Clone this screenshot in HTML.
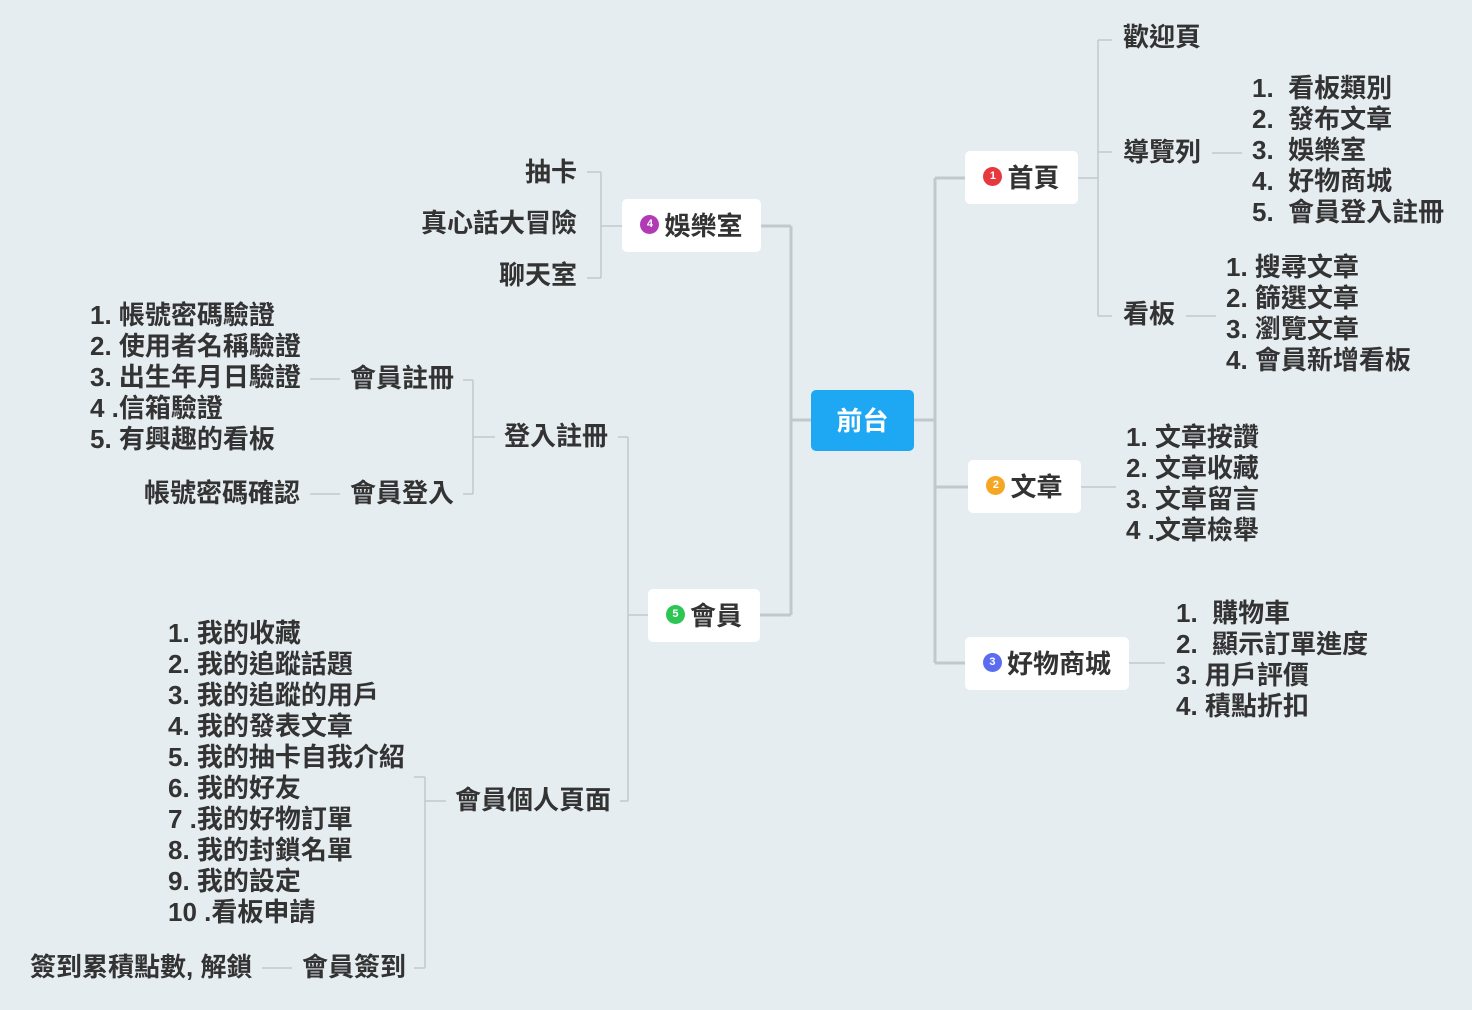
<!DOCTYPE html>
<html><head><meta charset="utf-8"><style>
body{margin:0;width:1472px;height:1010px;background:#e6edf1;position:relative;overflow:hidden;font-family:"Liberation Sans","Noto Sans CJK TC",sans-serif;font-weight:bold;color:#333;}
.t{position:absolute;font-size:26px;line-height:31px;white-space:pre;}
.r{text-align:right;}
.box{position:absolute;background:#fff;border-radius:5px;font-size:26px;display:flex;align-items:center;justify-content:center;gap:5px;padding-bottom:2px;box-sizing:border-box;}
.m{display:inline-block;width:19px;height:19px;border-radius:50%;color:#fff;font-size:11px;line-height:19px;text-align:center;font-family:"Liberation Sans",sans-serif;}
svg{position:absolute;left:0;top:0}
</style></head><body>
<svg width="1472" height="1010" fill="none" stroke="#c2c8cc">
<g stroke-width="3">
<path d="M914 420H935M935 178V663M935 178H965M935 487H968M935 663H965"/>
<path d="M811 420H791M791 226V615M791 226H761M791 615H760"/>
</g>
<g stroke-width="1.5">
<path d="M1078 178H1098M1098 40V316M1098 40H1112M1098 152H1112M1098 316H1112M1212 153H1242M1186 316H1216"/>
<path d="M1081 487H1116M1129 663H1165"/>
<path d="M622 226H601M601 172V278M587 172H601M587 278H601"/>
<path d="M648 615H628M628 437V801M618 437H628M620 801H628"/>
<path d="M495 437H473M473 380V494M463 380H473M463 494H473M310 379H340M310 494H340"/>
<path d="M446 801H425M425 777V968M414 777H425M414 968H425M262 968H292"/>
</g>
</svg>
<div class="box" style="left:811px;top:390px;width:103px;height:61px;background:#1ea7f2;color:#fff;">前台</div>
<div class="box" style="left:965px;top:151px;width:113px;height:53px;"><span class="m" style="background:#e5393f">1</span>首頁</div>
<div class="box" style="left:968px;top:460px;width:113px;height:53px;"><span class="m" style="background:#f5a623">2</span>文章</div>
<div class="box" style="left:965px;top:637px;width:164px;height:53px;"><span class="m" style="background:#5b6cf0">3</span>好物商城</div>
<div class="box" style="left:622px;top:199px;width:139px;height:53px;"><span class="m" style="background:#b23bb5">4</span>娛樂室</div>
<div class="box" style="left:648px;top:589px;width:112px;height:53px;"><span class="m" style="background:#2dc653">5</span>會員</div>

<div class="t" style="left:1123px;top:22px">歡迎頁</div>
<div class="t" style="left:1123px;top:137px">導覽列</div>
<div class="t" style="left:1252px;top:73px">1.  看板類別
2.  發布文章
3.  娛樂室
4.  好物商城
5.  會員登入註冊</div>
<div class="t" style="left:1123px;top:299px">看板</div>
<div class="t" style="left:1226px;top:252px">1. 搜尋文章
2. 篩選文章
3. 瀏覽文章
4. 會員新增看板</div>
<div class="t" style="left:1126px;top:422px">1. 文章按讚
2. 文章收藏
3. 文章留言
4 .文章檢舉</div>
<div class="t" style="left:1176px;top:598px">1.  購物車
2.  顯示訂單進度
3. 用戶評價
4. 積點折扣</div>

<div class="t r" style="right:895px;top:157px">抽卡</div>
<div class="t r" style="right:895px;top:208px">真心話大冒險</div>
<div class="t r" style="right:895px;top:260px">聊天室</div>

<div class="t" style="left:504px;top:421px">登入註冊</div>
<div class="t" style="left:455px;top:785px">會員個人頁面</div>
<div class="t" style="left:350px;top:363px">會員註冊</div>
<div class="t" style="left:350px;top:478px">會員登入</div>
<div class="t" style="left:90px;top:300px">1. 帳號密碼驗證
2. 使用者名稱驗證
3. 出生年月日驗證
4 .信箱驗證
5. 有興趣的看板</div>
<div class="t r" style="right:1172px;top:478px">帳號密碼確認</div>
<div class="t" style="left:168px;top:618px">1. 我的收藏
2. 我的追蹤話題
3. 我的追蹤的用戶
4. 我的發表文章
5. 我的抽卡自我介紹
6. 我的好友
7 .我的好物訂單
8. 我的封鎖名單
9. 我的設定
10 .看板申請</div>
<div class="t" style="left:302px;top:952px">會員簽到</div>
<div class="t" style="left:30px;top:952px">簽到累積點數, 解鎖</div>
</body></html>
